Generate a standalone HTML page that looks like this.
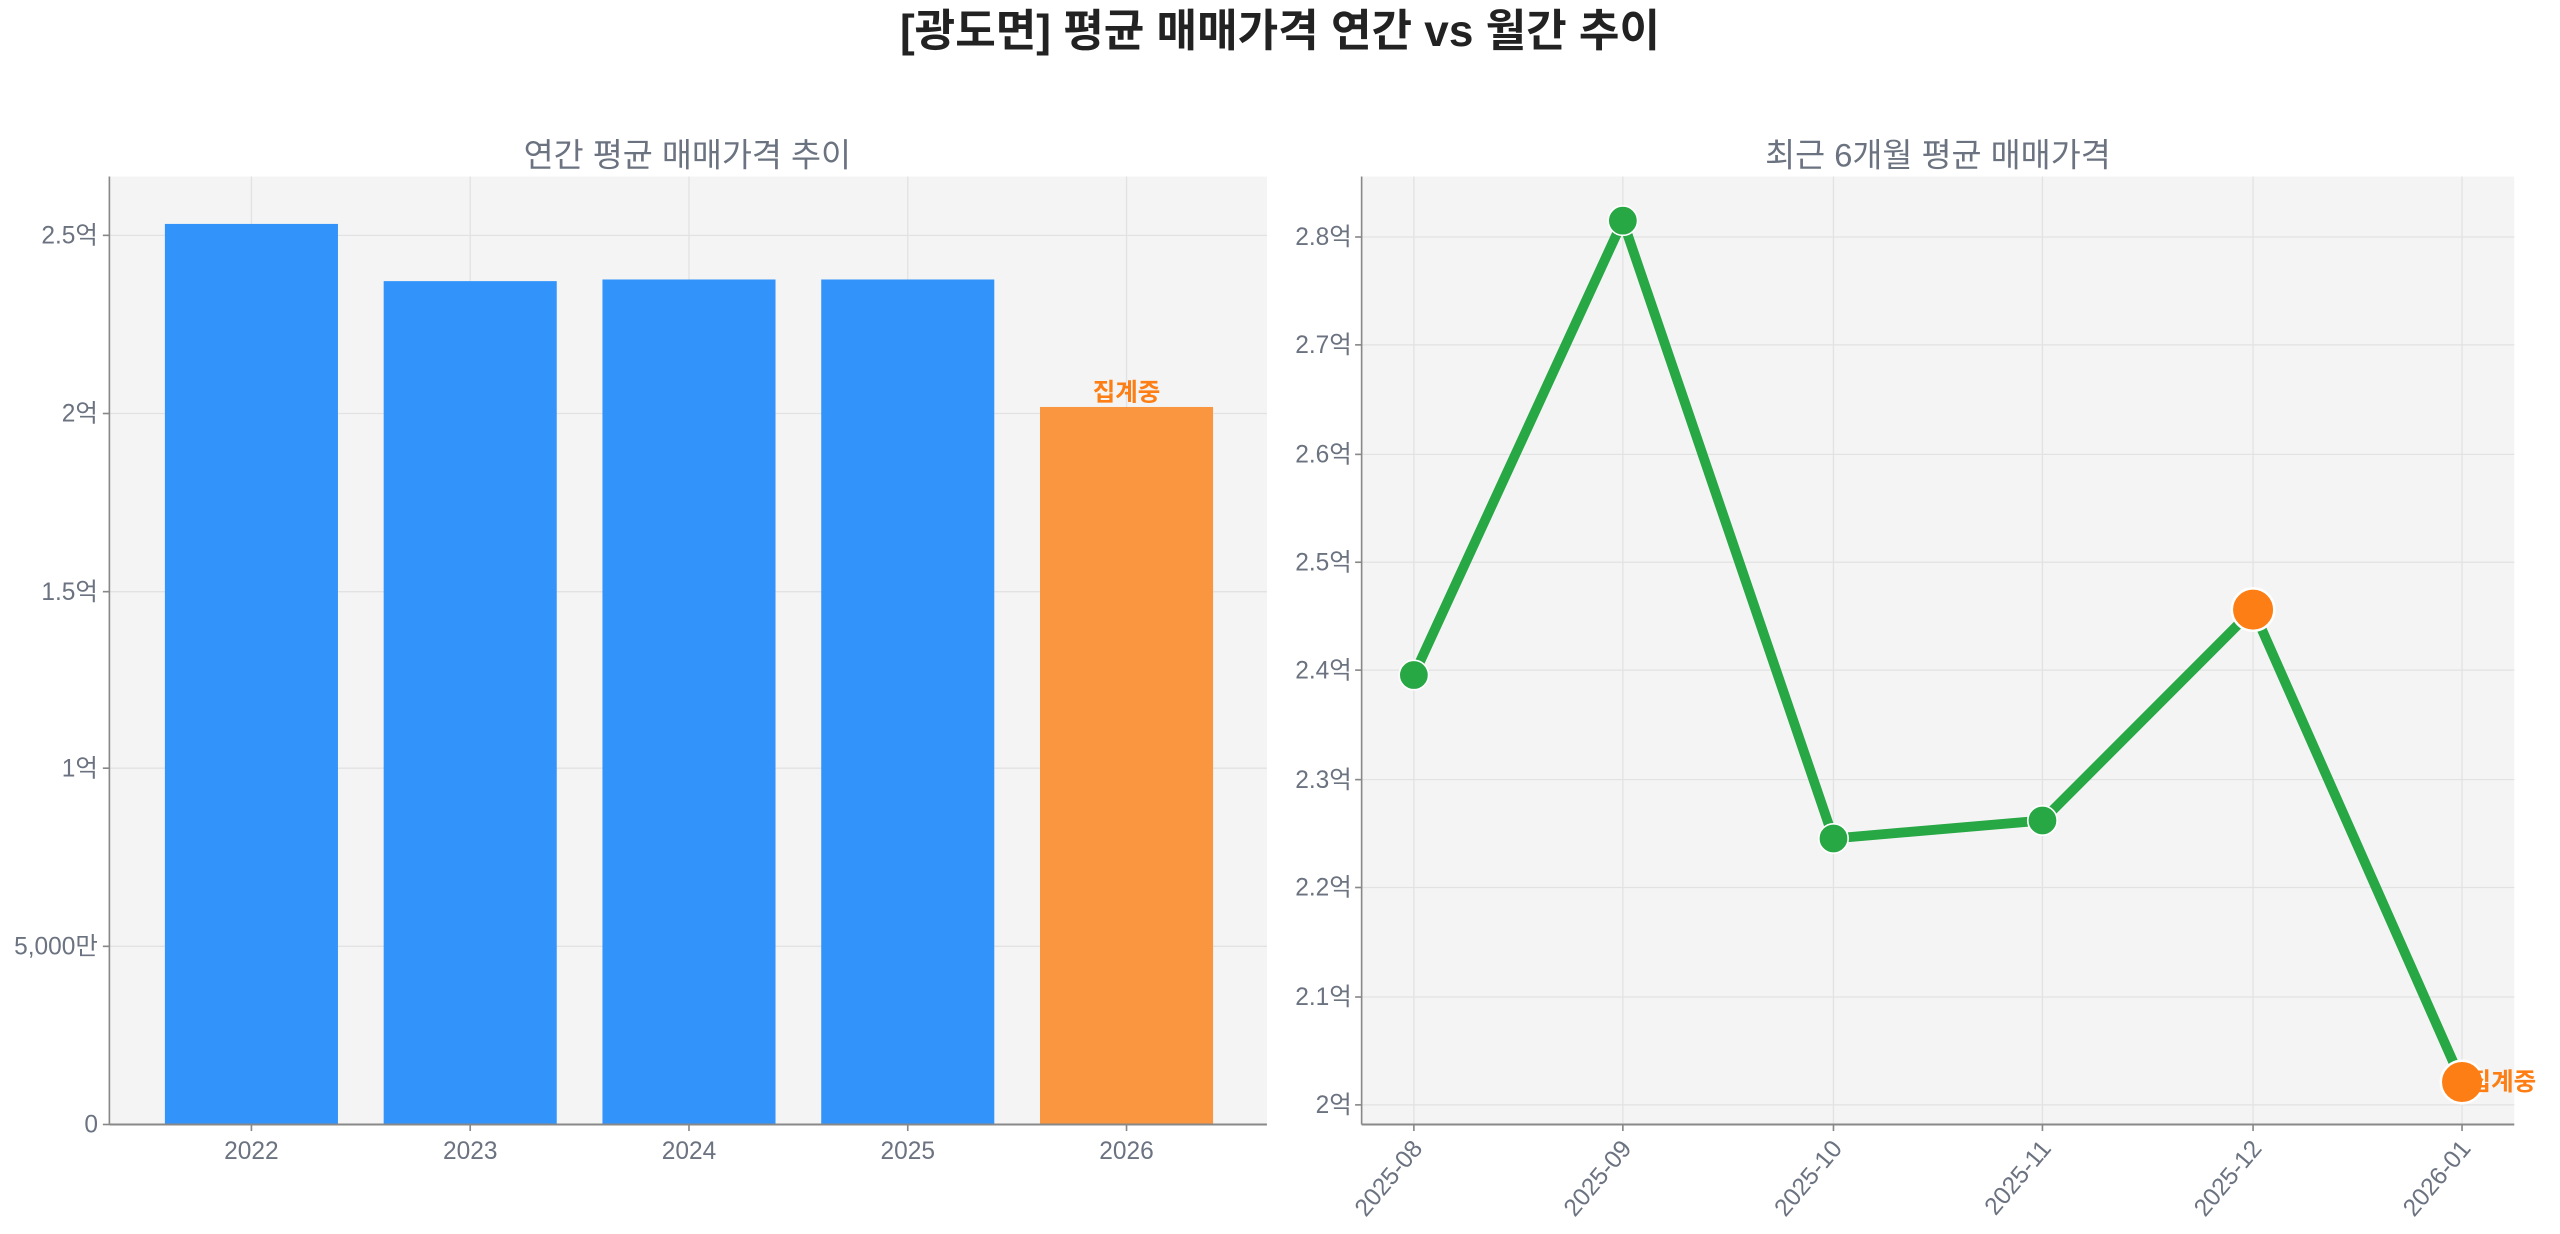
<!DOCTYPE html>
<html><head><meta charset="utf-8"><style>
html,body{margin:0;padding:0;background:#fff;}
svg{display:block;font-family:"Liberation Sans","Noto Sans CJK KR",sans-serif;}
</style></head><body>
<svg width="2560" height="1234" viewBox="0 0 1568 755" preserveAspectRatio="none" xmlns="http://www.w3.org/2000/svg">
<text x="784" y="28" text-anchor="middle" font-size="27" font-weight="bold" fill="#222">[광도면] 평균 매매가격 연간 vs 월간 추이</text>

<!-- Left plot -->
<rect x="67" y="108" width="709" height="580" fill="#f4f4f4"/>
<g stroke="#e2e2e2" stroke-width="0.8">
<line x1="154" y1="108" x2="154" y2="688"/><line x1="288" y1="108" x2="288" y2="688"/><line x1="422" y1="108" x2="422" y2="688"/><line x1="556" y1="108" x2="556" y2="688"/><line x1="690" y1="108" x2="690" y2="688"/>
<line x1="67" y1="144" x2="776" y2="144"/><line x1="67" y1="253" x2="776" y2="253"/><line x1="67" y1="362" x2="776" y2="362"/><line x1="67" y1="470" x2="776" y2="470"/><line x1="67" y1="579" x2="776" y2="579"/>
</g>
<text x="421" y="102" text-anchor="middle" font-size="20" fill="#6b7280">연간 평균 매매가격 추이</text>
<rect x="101" y="137" width="106" height="551" fill="#3293fa"/>
<rect x="235" y="172" width="106" height="516" fill="#3293fa"/>
<rect x="369" y="171" width="106" height="517" fill="#3293fa"/>
<rect x="503" y="171" width="106" height="517" fill="#3293fa"/>
<rect x="637" y="249" width="106" height="439" fill="#f9963f"/>
<text x="690" y="245" text-anchor="middle" font-size="15" font-weight="bold" fill="#fd7e14">집계중</text>
<line x1="67" y1="108" x2="67" y2="688" stroke="#888" stroke-width="1"/>
<line x1="67" y1="688" x2="776" y2="688" stroke="#888" stroke-width="1.2"/>
<g stroke="#888" stroke-width="1">
<line x1="63" y1="144" x2="67" y2="144"/><line x1="63" y1="253" x2="67" y2="253"/><line x1="63" y1="362" x2="67" y2="362"/><line x1="63" y1="470" x2="67" y2="470"/><line x1="63" y1="579" x2="67" y2="579"/><line x1="63" y1="688" x2="67" y2="688"/>
<line x1="154" y1="688" x2="154" y2="692"/><line x1="288" y1="688" x2="288" y2="692"/><line x1="422" y1="688" x2="422" y2="692"/><line x1="556" y1="688" x2="556" y2="692"/><line x1="690" y1="688" x2="690" y2="692"/>
</g>
<g font-size="15" fill="#6b7280" text-anchor="end">
<text x="60" y="149">2.5억</text><text x="60" y="258">2억</text><text x="60" y="367">1.5억</text><text x="60" y="475">1억</text><text x="60" y="584">5,000만</text><text x="60" y="693">0</text>
</g>
<g font-size="15" fill="#6b7280" text-anchor="middle">
<text x="154" y="709">2022</text><text x="288" y="709">2023</text><text x="422" y="709">2024</text><text x="556" y="709">2025</text><text x="690" y="709">2026</text>
</g>

<!-- Right plot -->
<rect x="834" y="108" width="706" height="580" fill="#f4f4f4"/>
<g stroke="#e2e2e2" stroke-width="0.8">
<line x1="866" y1="108" x2="866" y2="688"/><line x1="994" y1="108" x2="994" y2="688"/><line x1="1123" y1="108" x2="1123" y2="688"/><line x1="1251" y1="108" x2="1251" y2="688"/><line x1="1380" y1="108" x2="1380" y2="688"/><line x1="1508" y1="108" x2="1508" y2="688"/>
<line x1="834" y1="145" x2="1540" y2="145"/><line x1="834" y1="211" x2="1540" y2="211"/><line x1="834" y1="278" x2="1540" y2="278"/><line x1="834" y1="344" x2="1540" y2="344"/><line x1="834" y1="410" x2="1540" y2="410"/><line x1="834" y1="477" x2="1540" y2="477"/><line x1="834" y1="543" x2="1540" y2="543"/><line x1="834" y1="610" x2="1540" y2="610"/><line x1="834" y1="676" x2="1540" y2="676"/>
</g>
<text x="1187" y="102" text-anchor="middle" font-size="20" fill="#6b7280">최근 6개월 평균 매매가격</text>
<polyline points="866,413 994,135 1123,513 1251,502 1380,373 1508,662" fill="none" stroke="#28a745" stroke-width="6" stroke-linejoin="round"/>
<g fill="#28a745" stroke="#fff" stroke-width="1">
<circle cx="866" cy="413" r="9"/><circle cx="994" cy="135" r="9"/><circle cx="1123" cy="513" r="9"/><circle cx="1251" cy="502" r="9"/>
</g>
<g fill="#fd7e14" stroke="#fff" stroke-width="1.5">
<circle cx="1380" cy="373" r="13"/><circle cx="1508" cy="662" r="13"/>
</g>
<text x="1512" y="667" font-size="15" font-weight="bold" fill="#fd7e14">집계중</text>
<line x1="834" y1="108" x2="834" y2="688" stroke="#888" stroke-width="1"/>
<line x1="834" y1="688" x2="1540" y2="688" stroke="#888" stroke-width="1.2"/>
<g stroke="#888" stroke-width="1">
<line x1="830" y1="145" x2="834" y2="145"/><line x1="830" y1="211" x2="834" y2="211"/><line x1="830" y1="278" x2="834" y2="278"/><line x1="830" y1="344" x2="834" y2="344"/><line x1="830" y1="410" x2="834" y2="410"/><line x1="830" y1="477" x2="834" y2="477"/><line x1="830" y1="543" x2="834" y2="543"/><line x1="830" y1="610" x2="834" y2="610"/><line x1="830" y1="676" x2="834" y2="676"/>
<line x1="866" y1="688" x2="866" y2="692"/><line x1="994" y1="688" x2="994" y2="692"/><line x1="1123" y1="688" x2="1123" y2="692"/><line x1="1251" y1="688" x2="1251" y2="692"/><line x1="1380" y1="688" x2="1380" y2="692"/><line x1="1508" y1="688" x2="1508" y2="692"/>
</g>
<g font-size="15" fill="#6b7280" text-anchor="end">
<text x="828" y="150">2.8억</text><text x="828" y="216">2.7억</text><text x="828" y="283">2.6억</text><text x="828" y="349">2.5억</text><text x="828" y="415">2.4억</text><text x="828" y="482">2.3억</text><text x="828" y="548">2.2억</text><text x="828" y="615">2.1억</text><text x="828" y="681">2억</text>
</g>
<g font-size="15" fill="#6b7280" text-anchor="end">
<text transform="translate(872,703) rotate(-50)">2025-08</text>
<text transform="translate(1000,703) rotate(-50)">2025-09</text>
<text transform="translate(1129,703) rotate(-50)">2025-10</text>
<text transform="translate(1257,703) rotate(-50)">2025-11</text>
<text transform="translate(1386,703) rotate(-50)">2025-12</text>
<text transform="translate(1514,703) rotate(-50)">2026-01</text>
</g>
</svg>
</body></html>
